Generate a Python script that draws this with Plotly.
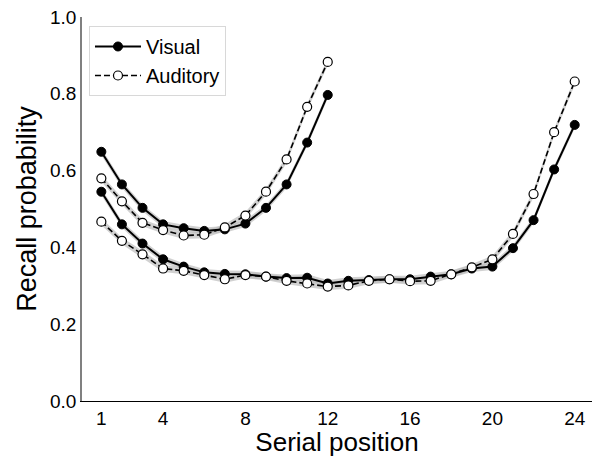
import plotly.graph_objects as go

pos12 = list(range(1, 13))
pos24 = list(range(1, 25))

visual12 = [0.649, 0.564, 0.503, 0.460, 0.450, 0.443, 0.447, 0.462, 0.503, 0.564, 0.673, 0.797]
auditory12 = [0.580, 0.520, 0.464, 0.445, 0.431, 0.433, 0.452, 0.483, 0.545, 0.629, 0.766, 0.883]

visual24 = [0.545, 0.460, 0.410, 0.369, 0.350, 0.335, 0.331, 0.330, 0.324, 0.320, 0.321, 0.306,
            0.313, 0.315, 0.317, 0.317, 0.324, 0.330, 0.345, 0.350, 0.398, 0.471, 0.603, 0.719]
auditory24 = [0.467, 0.417, 0.382, 0.345, 0.339, 0.328, 0.317, 0.328, 0.324, 0.313, 0.306, 0.298,
              0.301, 0.313, 0.317, 0.312, 0.313, 0.330, 0.348, 0.369, 0.435, 0.539, 0.700, 0.832]

band_half = 0.009  # approximate half-width of shaded error band

xticks = [1, 4, 8, 12, 16, 20, 24]
yticks = [0.0, 0.2, 0.4, 0.6, 0.8, 1.0]

FONT = "Liberation Sans, Arial, sans-serif"

fig = go.Figure()

# error bands
for xs, ys in [(pos12, visual12), (pos12, auditory12), (pos24, visual24), (pos24, auditory24)]:
    up = [v + band_half for v in ys]
    lo = [v - band_half for v in ys]
    fig.add_trace(go.Scatter(x=xs + xs[::-1], y=up + lo[::-1], fill="toself",
                             fillcolor="rgba(190,190,190,0.7)", line=dict(width=0),
                             mode="lines", showlegend=False, hoverinfo="skip"))

for xs, ys, show in [(pos12, visual12, True), (pos24, visual24, False)]:
    fig.add_trace(go.Scatter(x=xs, y=ys, mode="lines+markers", name="Visual",
                             legendgroup="v", showlegend=show,
                             line=dict(color="black", width=2),
                             marker=dict(symbol="circle", size=9, color="black",
                                         line=dict(color="black", width=1))))

for xs, ys, show in [(pos12, auditory12, True), (pos24, auditory24, False)]:
    fig.add_trace(go.Scatter(x=xs, y=ys, mode="lines+markers", name="Auditory",
                             legendgroup="a", showlegend=show,
                             line=dict(color="black", width=1.6, dash="6px,3px"),
                             marker=dict(symbol="circle", size=9, color="white",
                                         line=dict(color="black", width=1.2))))

fig.update_layout(
    width=592, height=457,
    margin=dict(l=82, r=0, t=17, b=56, autoexpand=False),
    plot_bgcolor="white", paper_bgcolor="white",
    font=dict(family=FONT, size=19, color="black"),
    legend=dict(x=0.0137, y=0.9766, xanchor="left", yanchor="top",
                bordercolor="#d8d8d8", borderwidth=1, bgcolor="white",
                font=dict(size=20), tracegroupgap=0, itemwidth=46),
    xaxis=dict(range=[0.06, 24.84], tickvals=xticks, ticktext=[str(t) for t in xticks],
               showgrid=False, zeroline=False, showline=True, linecolor="black", linewidth=1.3,
               ticks="", tickfont=dict(size=19), automargin=False,
               title=dict(text="Serial position", font=dict(size=26), standoff=1)),
    yaxis=dict(range=[0, 1.0], tickvals=yticks, ticktext=[f"{t:.1f}" for t in yticks],
               showgrid=False, zeroline=False, showline=True, linecolor="#808080", linewidth=1.5,
               ticks="", tickfont=dict(size=19), automargin=False,
               title=dict(text="Recall probability", font=dict(size=27), standoff=6)),
)

fig.write_html("out.html", config={"displayModeBar": False},
               post_script="document.body.style.margin='0';")
